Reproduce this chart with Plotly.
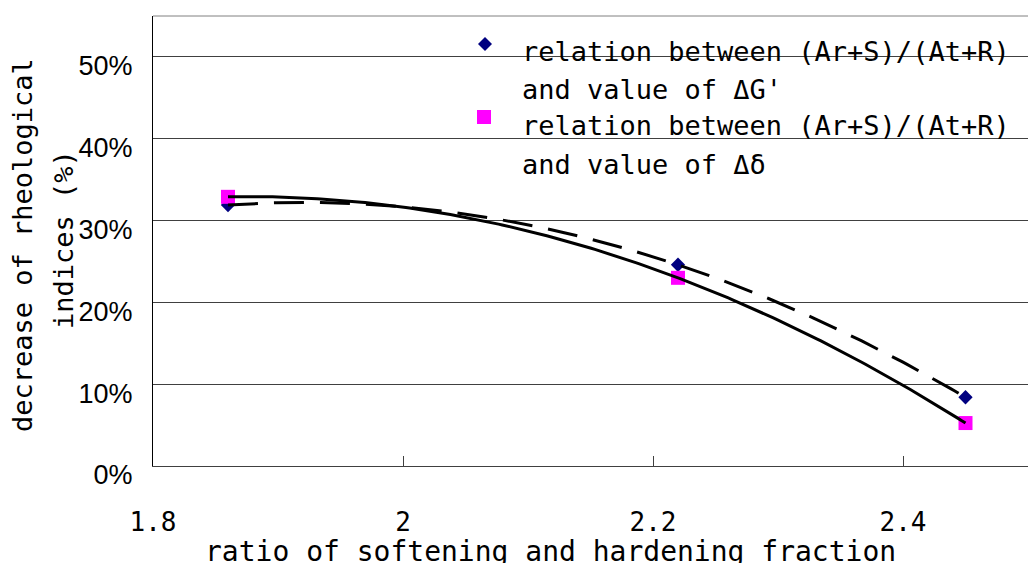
import numpy as np
import plotly.graph_objects as go

# ratio of softening to hardening fraction, (Ar+S)/(At+R)
ratio = [1.86, 2.22, 2.45]
# decrease of rheological indices (fraction)
decrease_g = [0.319, 0.246, 0.084]      # value of ΔG'
decrease_delta = [0.329, 0.230, 0.0525]  # value of Δδ

x_tick_vals = [1.8, 2.0, 2.2, 2.4]
x_tick_text = ["1.8", "2", "2.2", "2.4"]
y_tick_vals = [0, 0.1, 0.2, 0.3, 0.4, 0.5]

legend_g = ["relation between (Ar+S)/(At+R)", "and value of ΔG'"]
legend_delta = ["relation between (Ar+S)/(At+R)", "and value of Δδ"]

COLOR_G = "#000080"
COLOR_DELTA = "#FF00FF"
MONO = "DejaVu Sans Mono"
SANS = "Liberation Sans, Arial"

# figure geometry (pixels)
W, H = 1029, 563
ML, MR, MT, MB = 153, 1, 16, 97
PW, PH = W - ML - MR, H - MT - MB


def px(x):
    """Horizontal pixel -> paper fraction."""
    return (x - ML) / PW


def py(y):
    """Vertical pixel (from top) -> paper fraction."""
    return (H - MB - y) / PH


def poly2_trend(x, y, n=200):
    """Second-order polynomial trendline over the data range."""
    coef = np.polyfit(x, y, 2)
    xs = np.linspace(min(x), max(x), n)
    return xs, np.polyval(coef, xs)


fig = go.Figure()

fig.add_trace(go.Scatter(
    x=ratio, y=decrease_g, mode="markers", name=" ".join(legend_g),
    marker=dict(symbol="diamond", size=11, color=COLOR_G),
))
fig.add_trace(go.Scatter(
    x=ratio, y=decrease_delta, mode="markers", name=" ".join(legend_delta),
    marker=dict(symbol="square", size=14, color=COLOR_DELTA),
))

xs_g, ys_g = poly2_trend(ratio, decrease_g)
fig.add_trace(go.Scatter(
    x=xs_g, y=ys_g, mode="lines", hoverinfo="skip",
    line=dict(color="black", width=3, dash="30px,16px"),
))
xs_d, ys_d = poly2_trend(ratio, decrease_delta)
fig.add_trace(go.Scatter(
    x=xs_d, y=ys_d, mode="lines", hoverinfo="skip",
    line=dict(color="black", width=3),
))

fig.update_layout(
    width=W, height=H, autosize=False,
    margin=dict(l=ML, r=MR, t=MT, b=MB),
    paper_bgcolor="white", plot_bgcolor="white",
    font=dict(family=SANS, size=27, color="black"),
    showlegend=False,
    xaxis=dict(
        range=[1.8, 2.5], tickvals=x_tick_vals, ticktext=x_tick_text,
        ticks="inside", ticklen=10, tickcolor="#404040",
        showline=True, linecolor="#404040", linewidth=1,
        showgrid=False, zeroline=False,
        tickfont=dict(family=MONO, size=26, color="black"),
        ticklabelstandoff=33,
    ),
    yaxis=dict(
        range=[0, 0.55], tickvals=y_tick_vals, tickformat=".0%",
        ticks="inside", ticklen=10, tickcolor="#404040",
        showline=True, linecolor="black", linewidth=1,
        showgrid=True, gridcolor="#404040", gridwidth=1,
        zeroline=False,
        tickfont=dict(family=SANS, size=27, color="black"),
        ticklabelstandoff=14, ticklabelshift=9,
    ),
)

# legend box: white panel over the grid, then the series key
fig.add_shape(type="rect", xref="paper", yref="paper", layer="between",
              x0=px(451), x1=px(W + 2), y0=py(200), y1=py(17),
              fillcolor="white", line=dict(width=0))
fig.add_shape(type="path", xref="paper", yref="paper",
              path=(f"M {px(485)},{py(37)} L {px(492)},{py(44)} "
                    f"L {px(485)},{py(51)} L {px(478)},{py(44)} Z"),
              fillcolor=COLOR_G, line=dict(width=0))
fig.add_shape(type="rect", xref="paper", yref="paper",
              x0=px(477), x1=px(491), y0=py(124), y1=py(110),
              fillcolor=COLOR_DELTA, line=dict(width=0))

legend_lines = legend_g + legend_delta
legend_mid_y = [52, 90, 125, 164]
for text, ym in zip(legend_lines, legend_mid_y):
    fig.add_annotation(
        text=text, xref="paper", yref="paper", x=px(520), y=py(ym),
        xanchor="left", yanchor="middle", showarrow=False,
        font=dict(family=MONO, size=27, color="black"),
    )

# top border of the plot area
fig.add_shape(type="line", xref="paper", yref="paper",
              x0=0, x1=1, y0=1, y1=1, line=dict(color="#808080", width=1))

# axis titles
fig.add_annotation(
    text="ratio of softening and hardening fraction",
    xref="paper", yref="paper", x=px(550), y=py(551),
    xanchor="center", yanchor="middle", showarrow=False,
    font=dict(family=MONO, size=28, color="black"),
)
fig.add_annotation(
    text="decrease of rheological",
    xref="paper", yref="paper", x=px(22), y=py(245),
    xanchor="center", yanchor="middle", textangle=-90, showarrow=False,
    font=dict(family=MONO, size=27, color="black"),
)
fig.add_annotation(
    text="indices (%)",
    xref="paper", yref="paper", x=px(63), y=py(240),
    xanchor="center", yanchor="middle", textangle=-90, showarrow=False,
    font=dict(family=MONO, size=27, color="black"),
)

fig.write_html("out.html")
